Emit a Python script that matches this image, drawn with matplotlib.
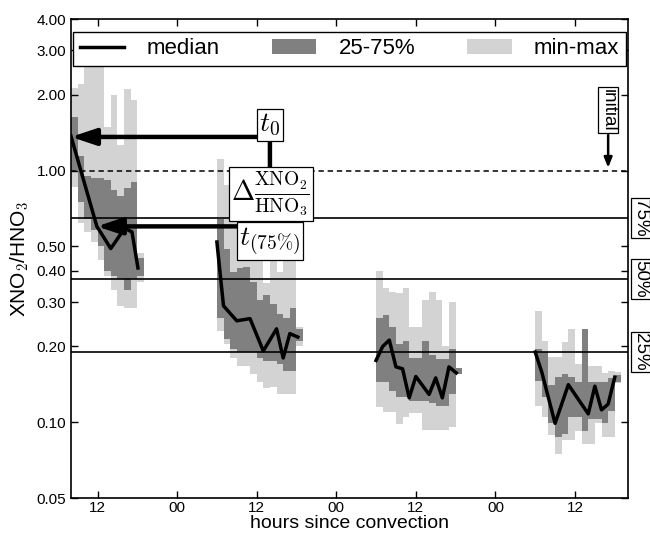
import numpy as np
import matplotlib
matplotlib.use('Agg')
import matplotlib.pyplot as plt
import matplotlib.transforms as mtransforms
from matplotlib.lines import Line2D
from matplotlib.patches import Patch
from matplotlib.ticker import FixedLocator, NullLocator, FixedFormatter

plt.rcParams['font.family'] = ['Liberation Sans', 'DejaVu Sans']
plt.rcParams['mathtext.fontset'] = 'cm'

# hourly columns of the four groups (hours since convection)
c1_hours = list(range(0, 11))
c1_max = [2.13, 2.2, 3.2, 3.2, 3.2, 1.49, 2.0, 1.26, 2.11, 1.91, 0.47]
c1_q75 = [1.63, 1.14, 0.95, 0.93, 0.93, 0.92, 0.84, 0.79, 0.85, 0.90, 0.45]
c1_q25 = [1.0, 0.75, 0.64, 0.58, 0.50, 0.40, 0.38, 0.37, 0.335, 0.37, 0.38]
c1_min = [0.86, 0.62, 0.57, 0.52, 0.44, 0.38, 0.335, 0.29, 0.285, 0.285, 0.36]
c1_med_h = [0, 3.9, 6.0, 8.1, 9.2, 10.1]
c1_med = [1.37, 0.60, 0.49, 0.59, 0.57, 0.41]

c2_hours = list(range(22, 35))
c2_max = [1.11, 0.88, 0.75, 0.75, 0.75, 0.75, 0.75, 0.357, 0.75, 0.395, 0.75, 0.75, 0.24]
c2_q75 = [0.64, 0.49, 0.395, 0.41, 0.415, 0.36, 0.306, 0.32, 0.296, 0.27, 0.26, 0.285, 0.235]
c2_q25 = [0.26, 0.215, 0.196, 0.19, 0.19, 0.19, 0.18, 0.175, 0.175, 0.17, 0.16, 0.16, 0.21]
c2_min = [0.23, 0.205, 0.18, 0.168, 0.168, 0.155, 0.145, 0.137, 0.138, 0.13, 0.13, 0.13, 0.20]
c2_med_h = [22.0, 23.0, 25.0, 27.0, 29.0, 31.0, 32.0, 33.0, 34.2]
c2_med = [0.52, 0.29, 0.253, 0.258, 0.192, 0.235, 0.18, 0.225, 0.218]

c3_hours = list(range(46, 59))
c3_max = [0.40, 0.34, 0.33, 0.326, 0.343, 0.24, 0.24, 0.306, 0.33, 0.306, 0.20, 0.30, 0.165]
c3_q75 = [0.26, 0.267, 0.24, 0.205, 0.21, 0.18, 0.18, 0.21, 0.185, 0.178, 0.178, 0.195, 0.164]
c3_q25 = [0.145, 0.145, 0.133, 0.126, 0.126, 0.121, 0.122, 0.122, 0.119, 0.116, 0.116, 0.129, 0.156]
c3_min = [0.115, 0.11, 0.11, 0.098, 0.105, 0.109, 0.109, 0.093, 0.093, 0.093, 0.093, 0.096, 0.155]
c3_med_h = [46, 47, 48, 49, 50, 51, 52, 54, 55, 56, 57, 58.1]
c3_med = [0.176, 0.200, 0.212, 0.166, 0.163, 0.125, 0.152, 0.129, 0.150, 0.125, 0.166, 0.157]

c4_hours = list(range(70, 83))
c4_max = [0.277, 0.21, 0.181, 0.181, 0.209, 0.235, 0.17, 0.235, 0.168, 0.168, 0.157, 0.16, 0.158]
c4_q75 = [0.195, 0.19, 0.141, 0.151, 0.156, 0.151, 0.144, 0.235, 0.145, 0.144, 0.144, 0.15, 0.154]
c4_q25 = [0.146, 0.126, 0.099, 0.087, 0.09, 0.105, 0.105, 0.092, 0.103, 0.103, 0.099, 0.111, 0.145]
c4_min = [0.116, 0.105, 0.089, 0.075, 0.085, 0.085, 0.092, 0.082, 0.082, 0.099, 0.087, 0.087, 0.143]
c4_med_h = [70, 71, 73, 75, 78, 79, 80, 81, 82]
c4_med = [0.19, 0.158, 0.099, 0.141, 0.108, 0.139, 0.112, 0.118, 0.151]

# reference levels
initial_level = 1.0
pct_levels = [0.648, 0.371, 0.19]
pct_labels = ['75%', '50%', '25%']
t0_value = 1.36
t75_hour, t75_value = 3.9, 0.60

xtick_pos = [4, 16, 28, 40, 52, 64, 76]
xtick_lab = ['12', '00', '12', '00', '12', '00', '12']
ytick_pos = [0.05, 0.1, 0.2, 0.3, 0.4, 0.5, 1.0, 2.0, 3.0, 4.0]

LIGHT = '#d3d3d3'
DARK = '#808080'

groups = [
    (c1_hours, c1_min, c1_q25, c1_q75, c1_max, c1_med_h, c1_med),
    (c2_hours, c2_min, c2_q25, c2_q75, c2_max, c2_med_h, c2_med),
    (c3_hours, c3_min, c3_q25, c3_q75, c3_max, c3_med_h, c3_med),
    (c4_hours, c4_min, c4_q25, c4_q75, c4_max, c4_med_h, c4_med),
]


def steps(h, v):
    # one extra edge so the last hour gets its full width
    return np.append(h, h[-1] + 1), np.append(v, v[-1])


fig = plt.figure(figsize=(6.5, 5.34), dpi=100)
ax = fig.add_axes([0.1092, 0.0674, 0.857, 0.897])

for hours, mn, q25, q75, mx, med_h, med in groups:
    x, lo = steps(hours, mn)
    _, hi = steps(hours, mx)
    ax.fill_between(x, lo, hi, step='post', color=LIGHT, lw=0, zorder=1)
    x, lo = steps(hours, q25)
    _, hi = steps(hours, q75)
    ax.fill_between(x, lo, hi, step='post', color=DARK, lw=0, zorder=2)
    ax.plot(med_h, med, color='k', lw=2.5, zorder=4)

ax.axhline(initial_level, color='k', lw=1.1, dashes=(3.5, 2.5), zorder=3)
for lev in pct_levels:
    ax.axhline(lev, color='k', lw=1.2, zorder=3)

ax.set_yscale('log')
ax.set_ylim(0.05, 4.0)
ax.set_xlim(0, 84)
ax.yaxis.set_major_locator(FixedLocator(ytick_pos))
ax.yaxis.set_major_formatter(FixedFormatter(['%.2f' % v for v in ytick_pos]))
ax.yaxis.set_minor_locator(NullLocator())
ax.set_xticks(xtick_pos)
ax.set_xticklabels(xtick_lab)
ax.tick_params(direction='in', top=True, right=True, length=5, width=1, labelsize=11)
ax.tick_params(axis='x', pad=2)
for s in ax.spines.values():
    s.set_linewidth(1.2)

ax.set_xlabel('hours since convection', fontsize=14, labelpad=0.5)
ax.set_ylabel(r'XNO$_\mathsf{2}$/HNO$_\mathsf{3}$', fontsize=15, labelpad=4)

# percent labels to the right of the axes
trans = mtransforms.blended_transform_factory(ax.transAxes, ax.transData)
box = dict(boxstyle='square,pad=0.08', fc='white', ec='black', lw=0.9)
for lev, lab in zip(pct_levels, pct_labels):
    ax.text(1.008, lev, lab, transform=trans, rotation=270, fontsize=13.5,
            ha='left', va='center', bbox=box, clip_on=False)

# initial marker
ax.annotate('', xy=(81, initial_level), xytext=(81, 1.42),
            arrowprops=dict(arrowstyle='-|>,head_length=0.5,head_width=0.2',
                            lw=1.8, color='k', mutation_scale=12), zorder=5)
ax.text(81, 1.74, 'initial', rotation=270, fontsize=13.5, ha='center', va='center',
        bbox=box, zorder=6)

# t0 / t(75%) construction
fat = dict(arrowstyle='-|>,head_length=0.75,head_width=0.25', lw=3.2,
           color='k', mutation_scale=20, shrinkA=0, shrinkB=0)
ax.annotate('', xy=(0, t0_value), xytext=(30, t0_value), arrowprops=fat, zorder=5)
ax.annotate('', xy=(t75_hour, t75_value), xytext=(30, t75_value), arrowprops=fat, zorder=5)
ax.annotate('', xy=(30, t75_value), xytext=(30, t0_value),
            arrowprops=dict(arrowstyle='-|>,head_length=0.4,head_width=0.3', lw=3.2,
                            color='k', mutation_scale=12, shrinkA=0, shrinkB=0), zorder=5)

mbox = dict(boxstyle='square,pad=0.1', fc='white', ec='black', lw=0.9)
ax.text(30, 1.515, r'$t_0$', fontsize=20, ha='center', va='center', bbox=mbox, zorder=6)
ax.text(30.1, 0.81, r'$\Delta\frac{\mathrm{XNO_2}}{\mathrm{HNO_3}}$', fontsize=20,
        ha='center', va='center', bbox=mbox, zorder=6)
ax.text(30, 0.525, r'$t_{(75\%)}$', fontsize=20, ha='center', va='center', bbox=mbox, zorder=6)

handles = [Line2D([], [], color='k', lw=2.5), Patch(fc=DARK), Patch(fc=LIGHT)]
leg = ax.legend(handles, ['median', '25-75%', 'min-max'], loc='lower left', ncol=3,
                mode='expand', bbox_to_anchor=(0.004, 0.902, 0.992, 0.073),
                fontsize=16, fancybox=False, framealpha=1, edgecolor='k',
                borderpad=0.3, handlelength=2.0, handletextpad=1.0, borderaxespad=0)
leg.get_frame().set_linewidth(1.0)
leg.set_zorder(10)

fig.savefig('out.png', dpi=100)
